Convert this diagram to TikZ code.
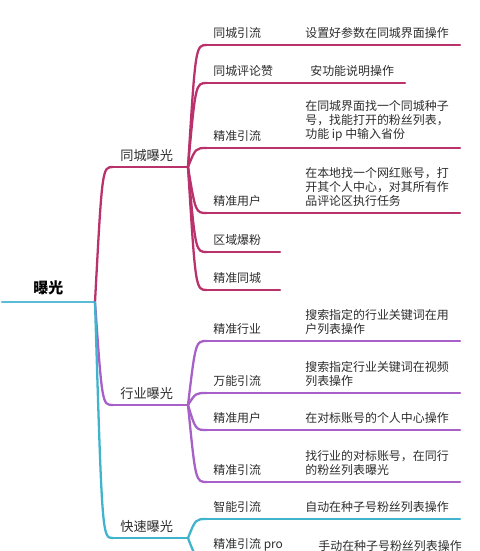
\documentclass[tikz,border=0pt]{standalone}
\usepackage{fontspec}
\newfontfamily\cjk{Noto Sans CJK SC}
\usetikzlibrary{calc}
\definecolor{mapred}{RGB}{186,50,108}
\definecolor{mappurple}{RGB}{166,96,200}
\definecolor{mapcyan}{RGB}{64,180,205}
\definecolor{maproot}{RGB}{90,188,215}
\definecolor{maptext}{RGB}{45,45,45}

\tikzset{
  twig/.style={line width=1.3pt,line cap=round},
  leaftext/.style={anchor=south west,inner sep=0pt,text=maptext,align=left,
                   font=\cjk\fontsize{6.8}{8}\selectfont},
  branchtext/.style={anchor=south west,inner sep=0pt,text=maptext,
                     font=\cjk\fontsize{7.5}{9}\selectfont},
  roottext/.style={anchor=south west,inner sep=0pt,text=black,
                   font=\cjk\bfseries\fontsize{8.5}{10}\selectfont}
}
% gebogene Verbindung: erst steil, dann waagrecht
\newcommand{\bendto}[3]{\draw[twig,#1] let \p1=(#2), \p2=(#3) in
  (#2) .. controls ({\x1+0.4*(\x2-\x1)},\y2) .. (#3);}

\begin{document}
\begin{tikzpicture}[x=0.02cm,y=-0.02cm]
  \clip (0,0) rectangle (480,551);
  % Wurzel
  \coordinate (root-s) at (2,302);
  \coordinate (root-e) at (95,302);
  \node[roottext] (root) at (33,295.5) {曝光};
  \draw[twig,maproot] (root-s) -- (root-e);

  % Ast 1 (rot)
  \coordinate (b1-s) at (113,167);
  \coordinate (b1-e) at (188,167);
  \node[branchtext] (b1) at (120,161.5) {同城曝光};
  \draw[twig,mapred] (b1-s) -- (b1-e);
  \bendto{mapred}{root-e}{b1-s}
  \foreach \k/\y/\xe/\lab/\dx/\desc in {
      a1/45/460/同城引流/305/{设置好参数在同城界面操作},
      a2/83/405/同城评论赞/310/{安功能说明操作},
      a3/148/460/精准引流/305/{在同城界面找一个同城种子\\号，找能打开的粉丝列表，\\功能 ip 中输入省份},
      a4/213/460/精准用户/305/{在本地找一个网红账号，打\\开其个人中心，对其所有作\\品评论区执行任务}}{
    \coordinate (\k-s) at (207,\y);
    \coordinate (\k-e) at (\xe,\y);
    \node[leaftext] (\k) at (213,\y-6.5) {\lab};
    \node[leaftext] (\k-d) at (\dx,\y-6.5) {\desc};
    \draw[twig,mapred] (\k-s) -- (\k-e);
    \bendto{mapred}{b1-e}{\k-s}
  }
  \foreach \k/\y/\lab in {a5/252/区域爆粉,a6/290/精准同城}{
    \coordinate (\k-s) at (207,\y);
    \coordinate (\k-e) at (280,\y);
    \node[leaftext] (\k) at (213,\y-6.5) {\lab};
    \draw[twig,mapred] (\k-s) -- (\k-e);
    \bendto{mapred}{b1-e}{\k-s}
  }

  % Ast 2 (lila)
  \coordinate (b2-s) at (113,405);
  \coordinate (b2-e) at (188,405);
  \node[branchtext] (b2) at (120,399.5) {行业曝光};
  \draw[twig,mappurple] (b2-s) -- (b2-e);
  \bendto{mappurple}{root-e}{b2-s}
  \foreach \k/\y/\lab/\desc in {
      c1/341/精准行业/{搜索指定的行业关键词在用\\户列表操作},
      c2/393/万能引流/{搜索指定行业关键词在视频\\列表操作},
      c3/430/精准用户/{在对标账号的个人中心操作},
      c4/482/精准引流/{找行业的对标账号，在同行\\的粉丝列表曝光}}{
    \coordinate (\k-s) at (207,\y);
    \coordinate (\k-e) at (460,\y);
    \node[leaftext] (\k) at (213,\y-6.5) {\lab};
    \node[leaftext] (\k-d) at (305,\y-6.5) {\desc};
    \draw[twig,mappurple] (\k-s) -- (\k-e);
    \bendto{mappurple}{b2-e}{\k-s}
  }

  % Ast 3 (cyan)
  \coordinate (b3-s) at (113,538);
  \coordinate (b3-e) at (188,538);
  \node[branchtext] (b3) at (120,532.5) {快速曝光};
  \draw[twig,mapcyan] (b3-s) -- (b3-e);
  \bendto{mapcyan}{root-e}{b3-s}
  \foreach \k/\y/\lab/\dx/\desc in {
      d1/519/智能引流/305/{自动在种子号粉丝列表操作},
      d2/558/精准引流 pro/318/{手动在种子号粉丝列表操作}}{
    \coordinate (\k-s) at (207,\y);
    \coordinate (\k-e) at (460,\y);
    \node[leaftext] (\k) at (213,\y-6.5) {\lab};
    \node[leaftext] (\k-d) at (\dx,\y-6.5) {\desc};
    \draw[twig,mapcyan] (\k-s) -- (\k-e);
    \bendto{mapcyan}{b3-e}{\k-s}
  }
\end{tikzpicture}
\end{document}
